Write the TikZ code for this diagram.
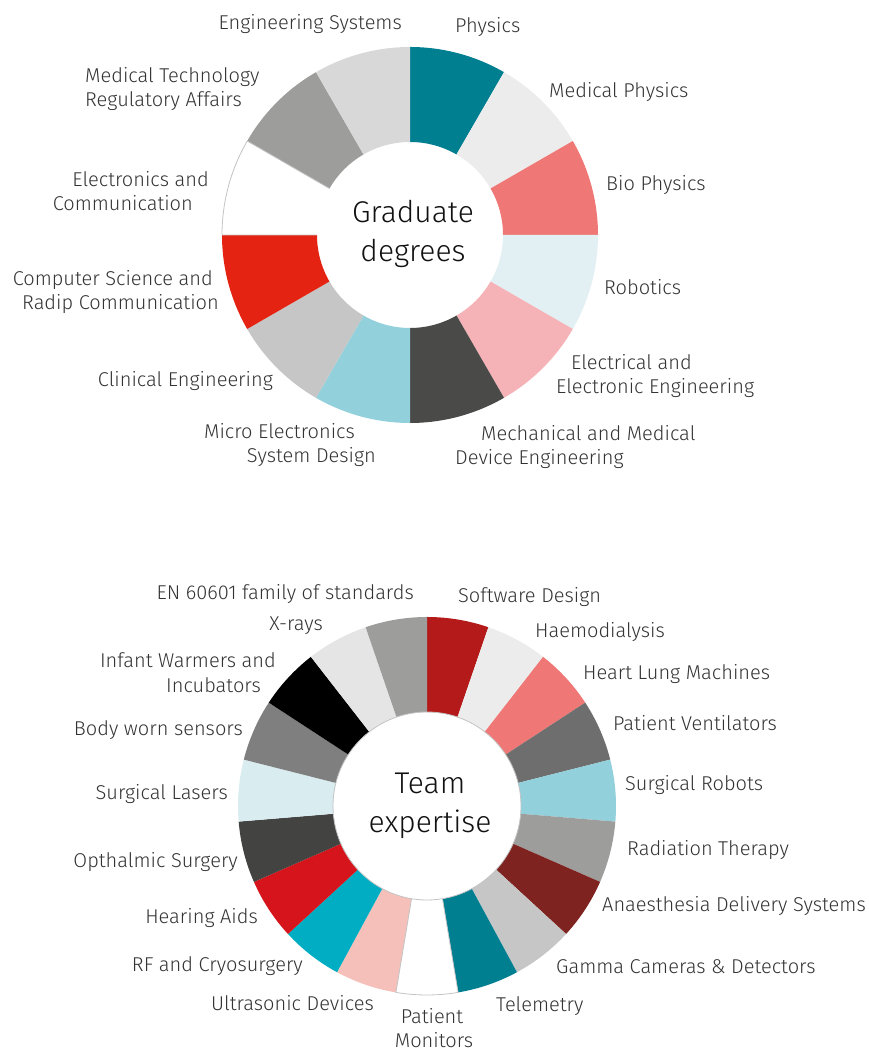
\documentclass[tikz,border=0pt]{standalone}
\usepackage{fontspec}
\setmainfont{Fira Sans}[UprightFont=* Light]
\definecolor{txt}{HTML}{333333}
\definecolor{ctitle}{HTML}{111111}
\definecolor{cTeal}{HTML}{007F91}
\definecolor{cLightA}{HTML}{ECECEC}
\definecolor{cSalmon}{HTML}{EF7877}
\definecolor{cIce}{HTML}{E2F0F4}
\definecolor{cPink}{HTML}{F6B3B7}
\definecolor{cDark}{HTML}{4A4A48}
\definecolor{cBlue}{HTML}{92D0DC}
\definecolor{cGrayC}{HTML}{C6C6C6}
\definecolor{cRed}{HTML}{E42313}
\definecolor{cGrayM}{HTML}{9D9D9C}
\definecolor{cGrayD}{HTML}{D8D8D8}
\definecolor{cWine}{HTML}{B51A1A}
\definecolor{cMid}{HTML}{6E6E6E}
\definecolor{cBrown}{HTML}{7F2320}
\definecolor{cRose}{HTML}{F6C0BA}
\definecolor{cCyan}{HTML}{00ADC3}
\definecolor{cRed2}{HTML}{D5151B}
\definecolor{cCoal}{HTML}{434342}
\definecolor{cIce2}{HTML}{D9EDF1}
\definecolor{cGray7}{HTML}{7F7F7F}
\definecolor{cXr}{HTML}{E5E5E5}
\definecolor{cEdge}{HTML}{C4C4C4}
\begin{document}
\begin{tikzpicture}[x=1pt,y=1pt,
  lbl/.style={font=\fontsize{20}{24}\selectfont, text=txt, inner sep=0pt},
  lw/.style={lbl, anchor=base west},
  le/.style={lbl, anchor=base east},
  lc/.style={lbl, anchor=base},
  ttl/.style={font=\fontsize{30}{34}\selectfont, text=ctitle, inner sep=0pt, anchor=base},
  edge/.style={draw=cEdge, line width=0.8pt}]
\useasboundingbox (0,0) rectangle (869,1052);
% ---------- top chart ----------
\begin{scope}[shift={(410,817)}]
\foreach \col [count=\i from 0] in {cTeal,cLightA,cSalmon,cIce,cPink,cDark,cBlue,cGrayC,cRed,white,cGrayM,cGrayD}{
  \pgfmathsetmacro\aA{90-30*\i}
  \pgfmathsetmacro\aB{90-30*(\i+1)}
  \fill[\col] (\aA:188pt) arc[start angle=\aA,end angle=\aB,radius=188pt] -- (\aB:93pt) arc[start angle=\aB,end angle=\aA,radius=93pt] -- cycle;
}
\draw[edge] (150:93pt) -- (150:188pt) arc[start angle=150,end angle=180,radius=188pt] -- (180:93pt);
\end{scope}
\node[ttl] (g1) at (413,829) {Graduate};
\node[ttl] (g2) at (413,790) {degrees};
\begin{scope}[yshift=-2pt]
\node[le] (t1) at (402,1024) {Engineering Systems};
\node[lw] (t2) at (455,1021) {Physics};
\node[lw] (t3) at (549,956) {Medical Physics};
\node[lw] (t4) at (606,863) {Bio Physics};
\node[lw] (t5) at (604,759) {Robotics};
\node[lw] (t6a) at (571,684) {Electrical and};
\node[lw] (t6b) at (556,660) {Electronic Engineering};
\node[lw] (t7a) at (481,613) {Mechanical and Medical};
\node[lw] (t7b) at (455,589) {Device Engineering};
\node[le] (t8a) at (355,615) {Micro Electronics};
\node[le] (t8b) at (376,591) {System Design};
\node[le] (t9) at (273,667) {Clinical Engineering};
\node[le] (t10a) at (213,768) {Computer Science and};
\node[le] (t10b) at (219,744) {Radip Communication};
\node[le] (t11a) at (209,867) {Electronics and};
\node[le] (t11b) at (193,843) {Communication};
\node[lw] (t12a) at (85,971) {Medical Technology};
\node[lw] (t12b) at (85,947) {Regulatory Affairs};
\end{scope}
% ---------- bottom chart ----------
\begin{scope}[shift={(427,246)}]
\foreach \col [count=\i from 0] in {cWine,cLightA,cSalmon,cMid,cBlue,cGrayM,cBrown,cGrayC,cTeal,white,cRose,cCyan,cRed2,cCoal,cIce2,cGray7,black,cXr,cGrayM}{
  \pgfmathsetmacro\aA{90-360/19*\i}
  \pgfmathsetmacro\aB{90-360/19*(\i+1)}
  \fill[\col] (\aA:189pt) arc[start angle=\aA,end angle=\aB,radius=189pt] -- (\aB:94pt) arc[start angle=\aB,end angle=\aA,radius=94pt] -- cycle;
}
\pgfmathsetmacro\pA{90-360/19*9}
\pgfmathsetmacro\pB{90-360/19*10}
\draw[edge] (\pA:94pt) -- (\pA:189pt) arc[start angle=\pA,end angle=\pB,radius=189pt] -- (\pB:94pt);
\draw[edge] (0,0) circle[radius=94pt];
\end{scope}
\node[ttl] (h1) at (430,258) {Team};
\node[ttl] (h2) at (430,219) {expertise};
\begin{scope}[yshift=-2pt]
\node[le] (b1) at (414,454) {EN 60601 family of standards};
\node[lw] (b2) at (458,451) {Software Design};
\node[le] (b3) at (323,423) {X-rays};
\node[lw] (b4) at (535,416) {Haemodialysis};
\node[le] (b5a) at (276,386) {Infant Warmers and};
\node[le] (b5b) at (261,361) {Incubators};
\node[lw] (b6) at (583,374) {Heart Lung Machines};
\node[le] (b7) at (243,318) {Body worn sensors};
\node[lw] (b8) at (613,323) {Patient Ventilators};
\node[lw] (b9) at (625,263) {Surgical Robots};
\node[le] (b10) at (228,254) {Surgical Lasers};
\node[lw] (b11) at (627,198) {Radiation Therapy};
\node[le] (b12) at (238,186) {Opthalmic Surgery};
\node[lw] (b13) at (602,142) {Anaesthesia Delivery Systems};
\node[le] (b14) at (258,130) {Hearing Aids};
\node[le] (b15) at (303,82) {RF and Cryosurgery};
\node[lw] (b16) at (556,80) {Gamma Cameras \& Detectors};
\node[le] (b17) at (374,43) {Ultrasonic Devices};
\node[lw] (b18) at (496,42) {Telemetry};
\node[lc] (b19a) at (432,30) {Patient};
\node[lc] (b19b) at (434,7) {Monitors};
\end{scope}
\end{tikzpicture}
\end{document}
